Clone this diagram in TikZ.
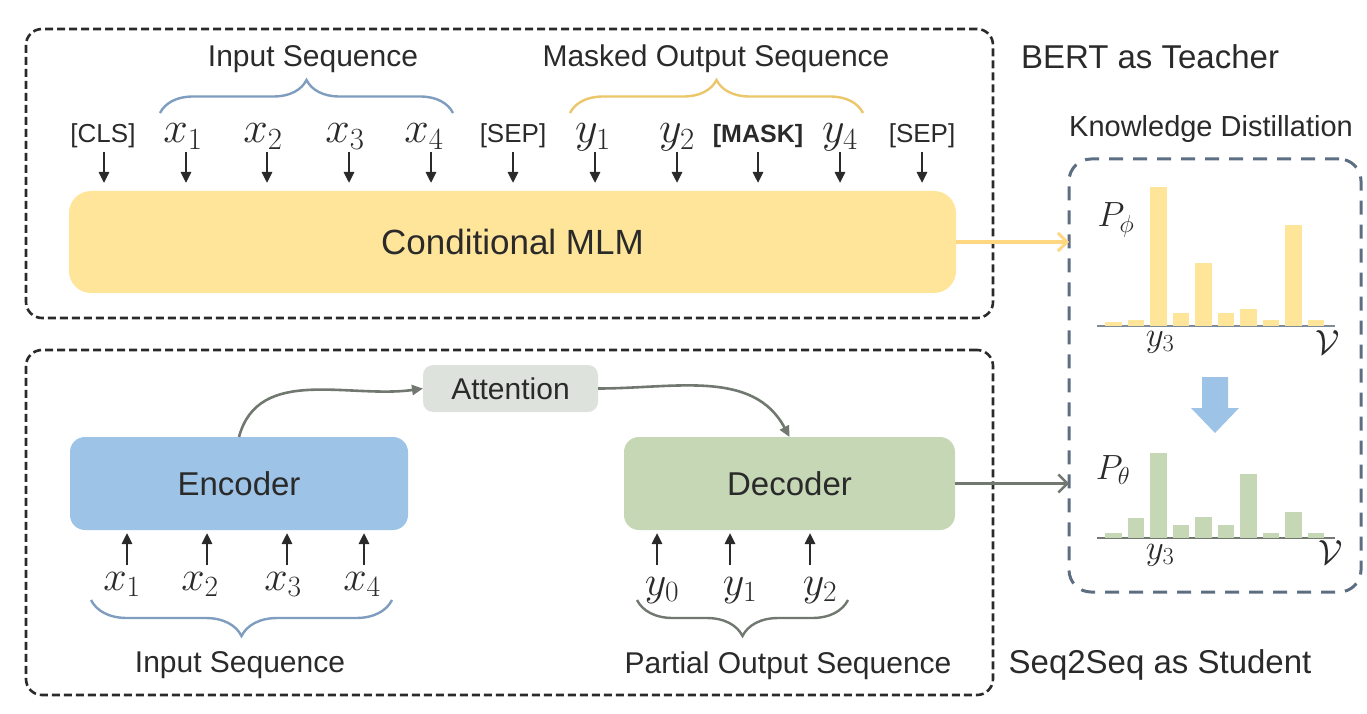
\RequirePackage{fix-cm}
\documentclass[tikz,border=0pt]{standalone}
\usepackage[no-math]{fontspec}
\setmainfont{Liberation Sans}
\usetikzlibrary{arrows.meta,decorations.pathreplacing,calc}
\definecolor{yel}{HTML}{FFE599}
\definecolor{yeldark}{HTML}{EBC66A}
\definecolor{blu}{HTML}{9DC3E6}
\definecolor{grn}{HTML}{C5D7B5}
\definecolor{attc}{HTML}{DDE3DC}
\definecolor{gry}{HTML}{707870}
\definecolor{brblue}{HTML}{7F9DBF}
\definecolor{kdc}{HTML}{5E6E82}
\definecolor{dark}{HTML}{2A2A2A}
\begin{document}
\begin{tikzpicture}[x=1pt,y=1pt,
  lab/.style={font=\fontsize{30}{36}\selectfont, inner sep=0pt, anchor=base, text=dark},
  biglab/.style={font=\fontsize{33}{40}\selectfont, inner sep=0pt, anchor=base, text=dark},
  tok/.style={font=\fontsize{26}{30}\selectfont, inner sep=0pt, anchor=base, text=dark},
  mtok/.style={font=\fontsize{44}{50}\selectfont, inner sep=0pt, anchor=base, text=dark},
  btok/.style={font=\fontsize{42}{48}\selectfont, inner sep=0pt, anchor=base, text=dark},
  hmath/.style={font=\fontsize{35}{40}\selectfont, inner sep=0pt, text=dark},
  outer/.style={draw=dark, line width=2.6pt, dash pattern=on 8pt off 4pt, rounded corners=16pt, inner sep=0pt, outer sep=0pt},
  boxx/.style={rounded corners=#1, inner sep=0pt, outer sep=0pt, text=dark},
  arr/.style={draw=dark, line width=2.6pt, -{Triangle[length=11pt,width=10pt]}},
  curv/.style={draw=gry, line width=2.6pt, -{Triangle[length=11pt,width=10pt]}},
  br/.style={line width=2.4pt, decorate, decoration={brace, amplitude=#1}},
]
\useasboundingbox (0,0) rectangle (1367,-714);

% outer dashed boxes
\node[outer, minimum width=967pt, minimum height=289pt] (topbox) at (509.5,-173.5) {};
\node[outer, minimum width=967pt, minimum height=345pt] (botbox) at (509.5,-522.5) {};
\node[draw=kdc, line width=3pt, dash pattern=on 14pt off 10pt, rounded corners=22pt, inner sep=0pt, outer sep=0pt,
      minimum width=292pt, minimum height=433pt] (kd) at (1215,-375.5) {};

% side labels
\node[biglab] (bert) at (1150,-69) {BERT as Teacher};
\node[lab, font=\fontsize{29}{34}\selectfont] (kdlab) at (1211,-137) {Knowledge Distillation};
\node[biglab] (s2s) at (1160,-673) {Seq2Seq as Student};

% ---------- teacher ----------
\node[boxx=22pt, fill=yel, minimum width=887pt, minimum height=102pt, font=\fontsize{35}{42}\selectfont] (mlm) at (512.5,-242) {Conditional MLM};

\node[lab] (insq) at (313,-67) {Input Sequence};
\node[lab] (mosq) at (716,-67) {Masked Output Sequence};
\draw[br=33pt, brblue] (160,-113) -- (453,-113);
\draw[br=33pt, yeldark] (570,-113) -- (863,-113);

\node[tok] (cls) at (103,-143) {[CLS]};
\node[mtok] (tx1) at (183,-143) {$x_1$};
\node[mtok] (tx2) at (263,-143) {$x_2$};
\node[mtok] (tx3) at (345,-143) {$x_3$};
\node[mtok] (tx4) at (424,-143) {$x_4$};
\node[tok] (sep1) at (513,-143) {[SEP]};
\node[mtok] (ty1) at (593,-143) {$y_1$};
\node[mtok] (ty2) at (677,-143) {$y_2$};
\node[tok, font=\bfseries\fontsize{25}{30}\selectfont] (mask) at (758,-143) {[MASK]};
\node[mtok] (ty4) at (840,-143) {$y_4$};
\node[tok] (sep2) at (922,-143) {[SEP]};

\foreach \n/\dx in {cls/1, tx1/3, tx2/4, tx3/4, tx4/7, sep1/0, ty1/2, ty2/0, mask/0, ty4/0, sep2/0}
  \draw[arr] ($(\n.base)+(\dx,-9)$) -- ($(\n.base)+(\dx,-40)$);

% arrow to KD
\draw[draw=yel!85!orange, line width=4pt, -{Straight Barb[length=9pt,width=18pt,line width=3pt]}] (mlm.east) -- (mlm.east -| kd.west);

% ---------- student ----------
\node[boxx=15pt, fill=blu, minimum width=338pt, minimum height=93pt, font=\fontsize{33}{40}\selectfont] (enc) at (239,-483.5) {Encoder};
\node[boxx=15pt, fill=grn, minimum width=331pt, minimum height=93pt, font=\fontsize{33}{40}\selectfont] (dec) at (789.5,-483.5) {Decoder};
\node[boxx=10pt, fill=attc, minimum width=175pt, minimum height=47pt, font=\fontsize{30}{36}\selectfont] (att) at (510.5,-388.5) {Attention};

\draw[curv] (enc.north) to[out=75,in=188] (att.west);
\draw[curv] (att.east) to[out=0,in=118] (dec.north);

\node[btok] (bx1) at (122,-590) {$x_1$};
\node[btok] (bx2) at (200,-590) {$x_2$};
\node[btok] (bx3) at (283,-590) {$x_3$};
\node[btok] (bx4) at (362,-590) {$x_4$};
\node[btok] (by0) at (662,-595) {$y_0$};
\node[btok] (by1) at (740,-595) {$y_1$};
\node[btok] (by2) at (820,-595) {$y_2$};

\foreach \n/\dx in {bx1/5, bx2/7, bx3/4, bx4/2}
  \draw[arr] ($(\n.base)+(\dx,25)$) -- ($(\n.base)+(\dx,57)$);
\foreach \n/\dx in {by0/-5, by1/-10, by2/-10}
  \draw[arr] ($(\n.base)+(\dx,30)$) -- ($(\n.base)+(\dx,62)$);

\draw[br=36pt, brblue, decoration={mirror}] (91,-600) -- (392,-600);
\draw[br=36pt, gry, decoration={mirror}] (637,-600) -- (848,-600);
\node[lab] (insq2) at (240,-672) {Input Sequence};
\node[lab] (posq) at (788,-673) {Partial Output Sequence};

\draw[draw=gry, line width=2.6pt, -{Straight Barb[length=9pt,width=18pt,line width=2.4pt]}] (dec.east) -- (dec.east -| kd.west);

% ---------- histograms ----------
\draw[kdc!80, line width=1.5pt] (1097,-326) -- (1335,-326);
\foreach \t [count=\i from 0] in {322,320,187,313,263,313,309,320,225,320}
  \fill[yel] (1105+22.5*\i,-326) rectangle ++(16.5,326-\t);
\draw[gry, line width=1.5pt] (1097,-538) -- (1335,-538);
\foreach \t [count=\i from 0] in {533,518,453,525,517,525,474,533,512,533}
  \fill[grn] (1105+22.5*\i,-538) rectangle ++(16.5,538-\t);

\node[hmath] (pphi) at (1116,-220) {$P_\phi$};
\node[hmath] (ty3) at (1160,-342) {$y_3$};
\node[hmath] (tv) at (1328,-343) {$\mathcal{V}$};
\node[hmath] (pth) at (1113,-470) {$P_\theta$};
\node[hmath] (by3) at (1160,-555) {$y_3$};
\node[hmath] (bv) at (1331,-553) {$\mathcal{V}$};

% blue arrow
\fill[blu] (1202,-377) -- (1228,-377) -- (1228,-408) -- (1239,-408) -- (1215,-433) -- (1191,-408) -- (1202,-408) -- cycle;
\end{tikzpicture}
\end{document}
